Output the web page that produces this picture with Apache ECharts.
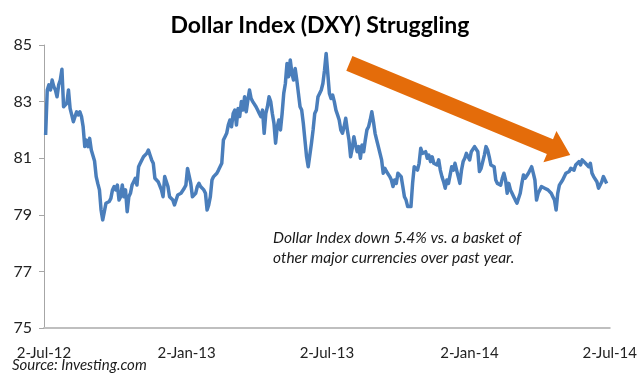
<!DOCTYPE html>
<html>
<head>
<meta charset="utf-8">
<script src="https://cdn.jsdelivr.net/npm/echarts@6/dist/echarts.min.js"></script>
<style>html,body{margin:0;padding:0;background:#fff}#c{width:640px;height:384px}</style>
</head>
<body>
<div id="c"></div>
<script>
// DXY readings (roughly every ~2.1 days, 4 Jul 2012 -> 28 Jun 2014)
var firstDay = 2.1, lastDay = 726;            // days after 2-Jul-2012
var dxy = [
81.82,83.41,83.59,83.41,83.76,83.53,83.41,83.17,83.59,83.76,84.14,82.82,82.76,82.94,83.41,82.76,82.53,82.29,82.47,82.64,
82.53,82.64,82.47,82.11,81.41,81.64,81.41,81.70,81.29,81.23,80.90,80.35,80.10,79.88,79.17,78.82,79.11,79.41,79.44,79.47,
79.58,79.88,80.00,79.88,80.05,79.52,79.64,80.05,79.64,79.88,79.11,79.64,79.76,80.05,80.17,80.29,80.05,80.70,80.82,80.76,
81.05,81.11,81.17,81.29,81.11,80.94,80.82,80.29,80.35,80.17,80.23,79.88,79.64,80.35,80.35,80.00,79.64,79.58,79.52,79.35,
79.41,79.70,79.76,79.76,79.82,79.94,80.05,80.64,80.70,80.11,79.64,79.58,79.76,80.00,80.11,80.00,80.05,79.88,79.76,79.17,
79.35,79.64,80.23,80.35,80.30,80.47,80.58,80.58,80.82,81.64,81.76,81.88,82.17,82.35,82.11,82.58,82.70,82.17,82.76,82.47,
83.00,82.70,83.17,82.64,83.06,83.41,83.11,83.00,83.06,82.82,82.70,82.58,82.47,82.70,81.88,82.58,82.82,83.17,83.00,82.58,
82.23,81.53,82.11,82.35,82.00,82.58,83.29,83.64,84.35,83.88,84.47,84.00,83.76,84.17,83.76,83.29,82.82,82.70,82.23,81.64,
81.05,80.70,80.76,81.53,82.00,82.58,82.70,83.17,83.29,83.41,83.64,84.11,84.70,84.76,83.29,83.11,83.23,83.00,82.70,82.53,
82.35,82.00,81.88,82.11,82.41,82.00,81.64,81.05,81.35,81.76,81.47,81.23,81.41,81.00,81.47,81.23,81.64,82.00,82.11,82.35,
82.64,82.29,81.88,81.64,81.41,81.35,80.94,80.47,80.64,80.53,80.47,80.35,80.23,80.00,80.23,80.11,80.47,80.53,80.35,80.00,
79.64,79.52,79.29,79.23,79.29,80.11,80.70,80.76,80.58,80.82,81.35,81.17,81.11,81.23,81.00,81.11,80.88,81.05,80.82,80.88,
80.76,80.94,80.58,80.35,80.17,79.94,80.23,80.11,80.17,80.70,80.58,80.82,80.58,80.35,80.11,80.58,80.88,81.00,81.17,81.05,
80.94,81.23,81.29,81.41,81.35,81.23,80.53,80.64,80.70,81.11,81.41,81.29,81.05,80.76,80.76,80.70,80.23,80.11,80.17,80.05,
80.29,80.47,80.23,79.76,80.11,79.88,79.76,79.64,79.52,79.41,79.35,79.76,80.11,80.41,80.29,80.35,80.47,80.53,80.70,80.47,
80.23,79.52,79.76,79.88,80.00,80.05,79.94,80.00,79.88,79.82,79.76,79.64,79.52,79.17,79.76,80.05,80.11,80.23,80.29,80.47,
80.41,80.53,80.64,80.70,80.58,80.76,80.70,80.88,80.76,80.94,81.00,80.82,80.76,80.70,80.82,80.47,80.35,80.29,80.17,79.94,
79.88,80.17,80.35,80.29,80.11
];
var tickDays = [0, 184, 365, 549, 730];
var tickLabels = ['2-Jul-12', '2-Jan-13', '2-Jul-13', '2-Jan-14', '2-Jul-14'];
var yTicks = [75, 77, 79, 81, 83, 85];
var titleText = 'Dollar Index (DXY) Struggling';
var noteLines = ['Dollar Index down 5.4% vs. a basket of', 'other major currencies over past year.'];
var sourceText = 'Source: Investing.com';
var arrowFrom = [394, 84.35], arrowTo = [679, 81.11];

var n = dxy.length;
var seriesData = dxy.map(function (v, i) {
  return [firstDay + (lastDay - firstDay) * i / (n - 1), v];
});

var FONT = 'Lato, "Open Sans", sans-serif';
var chart = echarts.init(document.getElementById('c'), null, {renderer: 'canvas'});
chart.setOption({
  animation: false,
  backgroundColor: '#ffffff',
  title: {
    text: titleText, left: 'center', top: 9,
    textStyle: {fontFamily: FONT, fontSize: 23, fontWeight: 'bold', color: '#000'}
  },
  grid: {left: 44, right: 18, top: 45, bottom: 56, containLabel: false},
  xAxis: {
    type: 'value', min: 0, max: 730,
    splitLine: {show: false},
    axisLine: {show: true, lineStyle: {color: '#BFBFBF', width: 2}},
    axisTick: {show: false},
    axisLabel: {
      customValues: tickDays, margin: 18,
      fontFamily: FONT, fontSize: 15, color: '#222',
      formatter: function (v) { var k = tickDays.indexOf(v); return k >= 0 ? tickLabels[k] : ''; }
    }
  },
  yAxis: {
    type: 'value', min: yTicks[0], max: yTicks[yTicks.length - 1], interval: 2,
    splitLine: {show: false},
    axisLine: {show: true, lineStyle: {color: '#A6A6A6', width: 1}},
    axisTick: {show: true, length: 5, lineStyle: {color: '#A6A6A6'}},
    axisLabel: {margin: 12, fontFamily: FONT, fontSize: 16, color: '#222'}
  },
  series: [{
    type: 'line', data: seriesData, showSymbol: false,
    lineStyle: {color: '#4A7EBB', width: 3.5, join: 'round'}, z: 3
  }]
});

function drawExtras() {
  var p0 = chart.convertToPixel({gridIndex: 0}, arrowFrom);
  var p1 = chart.convertToPixel({gridIndex: 0}, arrowTo);
  var dx = p1[0] - p0[0], dy = p1[1] - p0[1];
  var L = Math.sqrt(dx * dx + dy * dy), ux = dx / L, uy = dy / L, nx = -uy, ny = ux;
  var hw = 8, headW = 17, headL = 22;
  var bx = p1[0] - ux * headL, by = p1[1] - uy * headL;
  var pts = [
    [p0[0] + nx * hw, p0[1] + ny * hw],
    [bx + nx * hw, by + ny * hw],
    [bx + nx * headW, by + ny * headW],
    [p1[0], p1[1]],
    [bx - nx * headW, by - ny * headW],
    [bx - nx * hw, by - ny * hw],
    [p0[0] - nx * hw, p0[1] - ny * hw]
  ];
  chart.setOption({
    graphic: [
      {type: 'polygon', shape: {points: pts}, style: {fill: '#E46C0A'}, z: 10},
      {type: 'text', left: 273, top: 228, z: 10,
       style: {text: noteLines.join('\n'), font: 'italic 15.5px ' + FONT, fill: '#1a1a1a', lineHeight: 20}},
      {type: 'text', left: 12, top: 358, z: 10,
       style: {text: sourceText, font: 'italic 15px ' + FONT, fill: '#1a1a1a'}}
    ]
  });
}
drawExtras();
</script>
</body>
</html>
